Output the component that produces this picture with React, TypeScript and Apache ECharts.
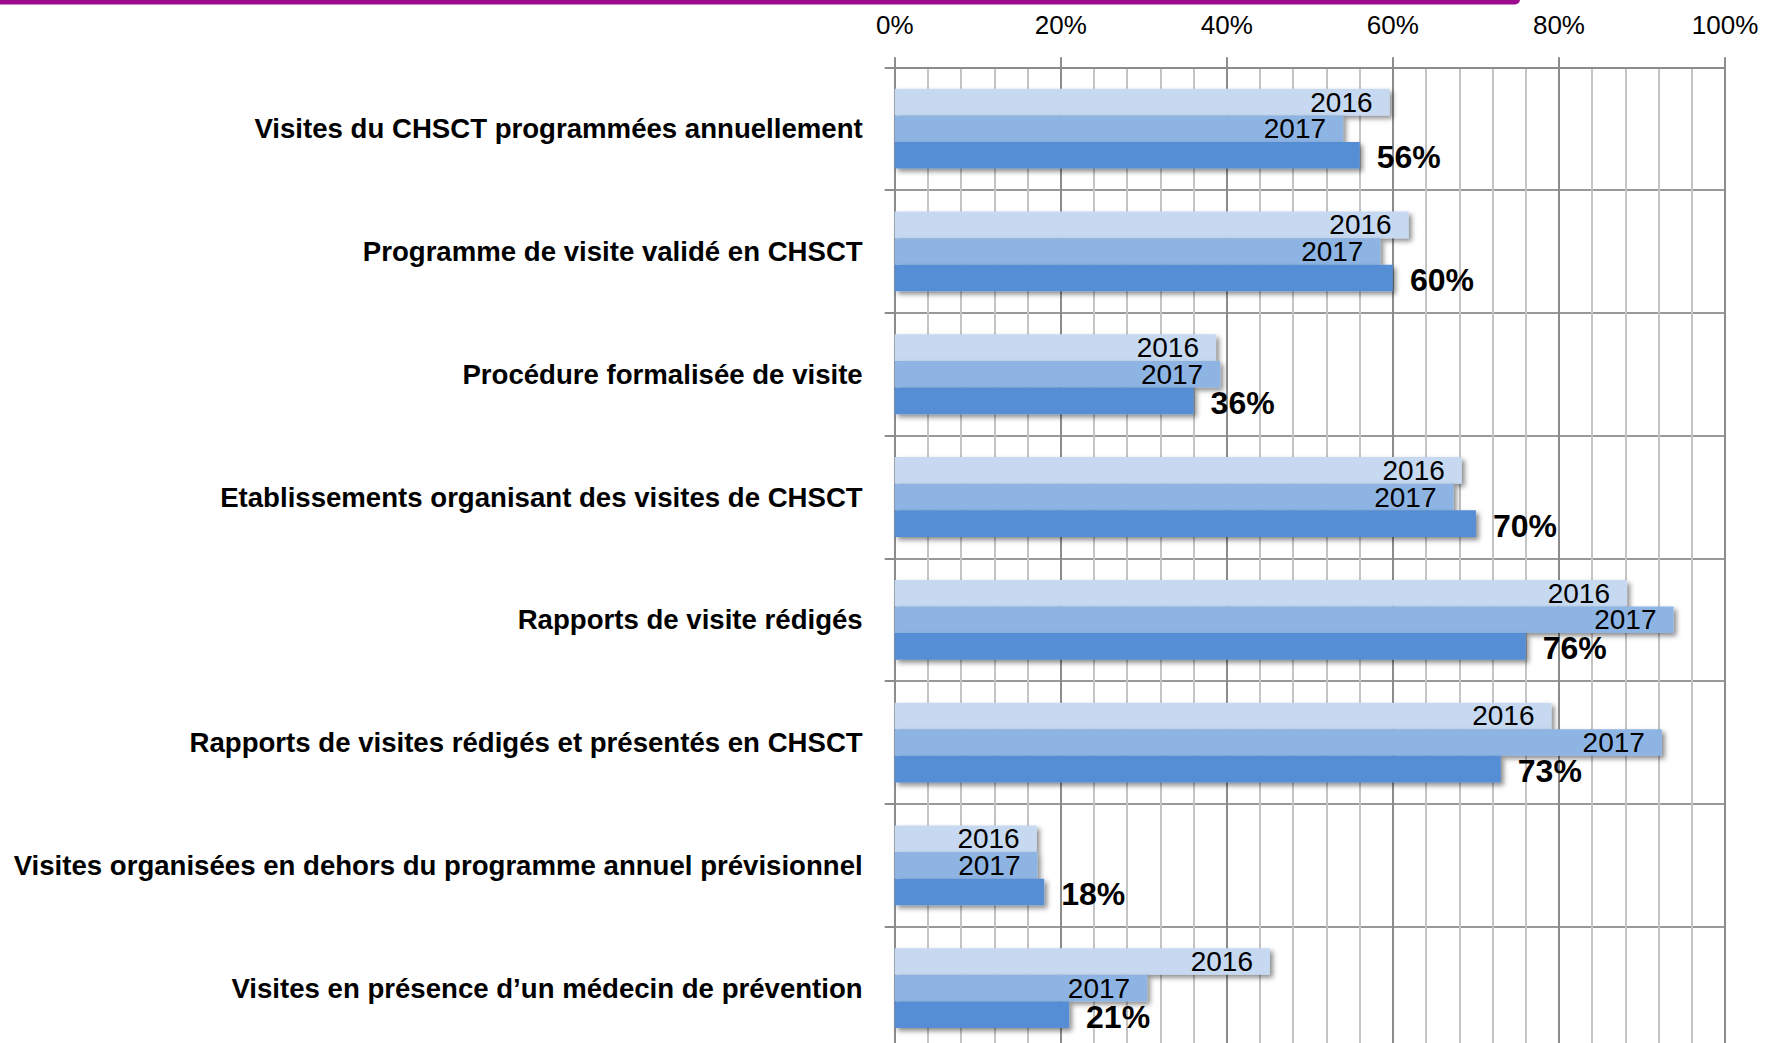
import React, { useEffect, useRef } from "react";
import * as echarts from "echarts";

const categories = [
  "Visites du CHSCT programmées annuellement",
  "Programme de visite validé en CHSCT",
  "Procédure formalisée de visite",
  "Etablissements organisant des visites de CHSCT",
  "Rapports de visite rédigés",
  "Rapports de visites rédigés et présentés en CHSCT",
  "Visites organisées en dehors du programme annuel prévisionnel",
  "Visites en présence d\u2019un médecin de prévention",
];
const values2016 = [59.6, 61.9, 38.7, 68.3, 88.2, 79.1, 17.1, 45.2];
const values2017 = [54.0, 58.5, 39.2, 67.3, 93.8, 92.4, 17.2, 30.4];
const values2018 = [56, 60, 36, 70, 76, 73, 18, 21];
const seriesNames = ["2016", "2017", "2018"];
const xTicks = [0, 20, 40, 60, 80, 100];

const FONT = "'Liberation Sans', Arial, sans-serif";

export default function App() {
  const ref = useRef<HTMLDivElement>(null);
  useEffect(() => {
    if (!ref.current) return;
    const chart = echarts.init(ref.current, undefined, { renderer: "svg" });
    const shadow = {
      shadowBlur: 5,
      shadowColor: "rgba(0,0,0,0.45)",
      shadowOffsetX: 3,
      shadowOffsetY: 3,
    };
    const yearLabel = (name: string) => ({
      show: true,
      position: "insideRight" as const,
      distance: 17,
      formatter: () => name,
      color: "#000",
      fontFamily: FONT,
      fontSize: 28,
    });
    chart.setOption({
      animation: false,
      backgroundColor: "#fff",
      textStyle: { fontFamily: FONT },
      grid: { left: 894.7, right: 42, top: 67.3, bottom: 10.5, containLabel: false },
      graphic: [
        {
          type: "rect",
          shape: { x: -10, y: -6, width: 1530, height: 10.5, r: 5 },
          style: { fill: "#9C0B8E" },
          z: 10,
        },
      ],
      xAxis: {
        type: "value",
        position: "top",
        min: xTicks[0],
        max: xTicks[xTicks.length - 1],
        interval: 20,
        axisLine: { show: true, lineStyle: { color: "#8c8c8c", width: 2 } },
        axisTick: { show: true, length: 10, lineStyle: { color: "#8c8c8c", width: 2 } },
        axisLabel: {
          margin: 29,
          fontSize: 26,
          color: "#000",
          fontFamily: FONT,
          formatter: (v: number) => v + "%",
        },
        splitLine: { show: true, lineStyle: { color: "#8c8c8c", width: 2 } },
        minorTick: { show: false, splitNumber: 5 },
        minorSplitLine: { show: true, lineStyle: { color: "#c4c4c4", width: 2 } },
      },
      yAxis: {
        type: "category",
        inverse: true,
        data: categories,
        axisLine: { show: true, lineStyle: { color: "#8c8c8c", width: 2 } },
        axisTick: { show: true, length: 10, interval: 0, lineStyle: { color: "#8c8c8c", width: 2 } },
        axisLabel: {
          margin: 32,
          fontSize: 27.6,
          fontWeight: "bold",
          color: "#000",
          fontFamily: FONT,
          interval: 0,
        },
        splitLine: { show: true, interval: 0, lineStyle: { color: "#999", width: 2 } },
      },
      series: [
        {
          name: seriesNames[0],
          type: "bar",
          data: values2016,
          barGap: "0%",
          barCategoryGap: "35%",
          itemStyle: { color: "#C6D9F1", ...shadow },
          label: yearLabel(seriesNames[0]),
        },
        {
          name: seriesNames[1],
          type: "bar",
          data: values2017,
          barGap: "0%",
          barCategoryGap: "35%",
          itemStyle: { color: "#8EB4E3", ...shadow },
          label: yearLabel(seriesNames[1]),
        },
        {
          name: seriesNames[2],
          type: "bar",
          data: values2018,
          barGap: "0%",
          barCategoryGap: "35%",
          itemStyle: { color: "#558ED5", ...shadow },
          label: {
            show: true,
            position: "right",
            distance: 17,
            offset: [0, 2],
            formatter: (p: any) => p.value + "%",
            color: "#000",
            fontFamily: FONT,
            fontSize: 32,
            fontWeight: "bold",
          },
        },
      ],
    });
    return () => chart.dispose();
  }, []);
  return (
    <div
      style={{
        position: "fixed",
        left: 0,
        top: 0,
        width: 1767,
        height: 1043,
        overflow: "hidden",
        background: "#fff",
      }}
    >
      <div ref={ref} style={{ width: 1767, height: 1060 }} />
    </div>
  );
}
